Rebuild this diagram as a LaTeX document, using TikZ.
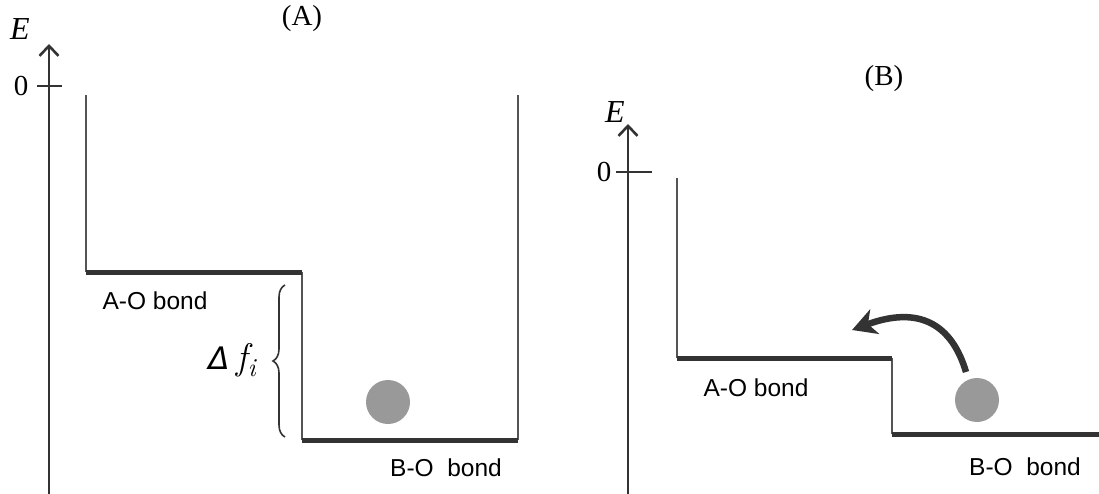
\documentclass[tikz,border=0pt]{standalone}
\usepackage{fontspec}
\setmainfont{Liberation Serif}
\setsansfont{Liberation Sans}
\newfontfamily\lmfont{Latin Modern Roman}
\newfontfamily\djvfont{DejaVu Sans}
\usetikzlibrary{arrows.meta,decorations.pathreplacing}
\definecolor{dk}{HTML}{333333}
\definecolor{wall}{HTML}{555555}
\definecolor{ball}{HTML}{999999}
\tikzset{
  axis/.style={dk,line width=2.6pt,-{Straight Barb[length=10pt,width=19pt,line width=2.6pt]}},
  tick/.style={dk,line width=1.8pt},
  wallline/.style={wall,line width=1.5pt},
  level/.style={dk,line width=5pt},
  lbl/.style={font=\sffamily\fontsize{24.5}{26}\selectfont,inner sep=0pt},
  serif/.style={font=\fontsize{29}{31}\selectfont,inner sep=0pt},
  ballst/.style={circle,fill=ball,minimum size=44pt,inner sep=0pt},
}
\begin{document}
\begin{tikzpicture}[x=1pt,y=-1pt]
\useasboundingbox (0,0) rectangle (1099,494);
% ---------- (A) ----------
\coordinate (aAxB) at (49,494);
\coordinate (aAxT) at (49,44);
\draw[axis] (aAxB) -- (aAxT);
\coordinate (aT1) at (37,86);
\coordinate (aT2) at (62,86);
\draw[tick] (aT1) -- (aT2);
\node[serif] (aZero) at (21,86) {0};
\node[serif] (aE) at (20,29) {\fontsize{32}{34}\selectfont\itshape E};
\node[serif] (aTitle) at (302,19) {(A)};
\coordinate (aW1t) at (86,95);
\coordinate (aL1) at (86,272);
\coordinate (aL1e) at (302,272);
\coordinate (aL2) at (302,440);
\coordinate (aL2e) at (518,440);
\coordinate (aW2t) at (518,95);
\draw[wallline] (aW1t) -- (aL1);
\draw[wallline] (aL1e) -- (aL2);
\draw[wallline] (aL2e) -- (aW2t);
\draw[level] (aL1) -- (aL1e);
\draw[level] (aL2) -- (aL2e);
\node[lbl] (aAO) at (155,301) {A-O bond};
\node[lbl] (aBO) at (446,468) {B-O~~bond};
\coordinate (aBr1) at (285,437);
\coordinate (aBr2) at (285,285);
\draw[dk,line width=1.6pt,decorate,decoration={brace,amplitude=12pt}] (aBr1) -- (aBr2);
\node[inner sep=0pt,anchor=base] (aDf) at (232,369) {\djvfont\itshape\fontsize{31}{33}\selectfont Δ\hspace{7pt}\lmfont\fontsize{37}{39}\selectfont f\raisebox{-7pt}{\fontsize{26}{28}\selectfont i}};
\node[ballst] (aBall) at (388,402) {};
% ---------- (B) ----------
\coordinate (bAxB) at (628,494);
\coordinate (bAxT) at (628,124);
\draw[axis] (bAxB) -- (bAxT);
\coordinate (bT1) at (616,172);
\coordinate (bT2) at (652,172);
\draw[tick] (bT1) -- (bT2);
\node[serif] (bZero) at (604,172) {0};
\node[serif] (bE) at (615,112) {\fontsize{32}{34}\selectfont\itshape E};
\node[serif] (bTitle) at (884,79) {(B)};
\coordinate (bW1t) at (677,178);
\coordinate (bL1) at (677,358);
\coordinate (bL1e) at (892,358);
\coordinate (bL2) at (892,434);
\coordinate (bL2e) at (1099,434);
\draw[wallline] (bW1t) -- (bL1);
\draw[wallline] (bL1e) -- (bL2);
\draw[level] (bL1) -- (bL1e);
\draw[level] (bL2) -- (bL2e);
\node[lbl] (bAO) at (756,388) {A-O bond};
\node[lbl] (bBO) at (1025,467) {B-O~~bond};
\node[ballst] (bBall) at (977,400) {};
\coordinate (bArS) at (966,372);
\coordinate (bArE) at (852,330);
\draw[dk,line width=6.5pt,-{Stealth[length=24pt,width=26pt,inset=7pt]}]
  (bArS) .. controls (952,325) and (920,305) .. (bArE);
\end{tikzpicture}
\end{document}
